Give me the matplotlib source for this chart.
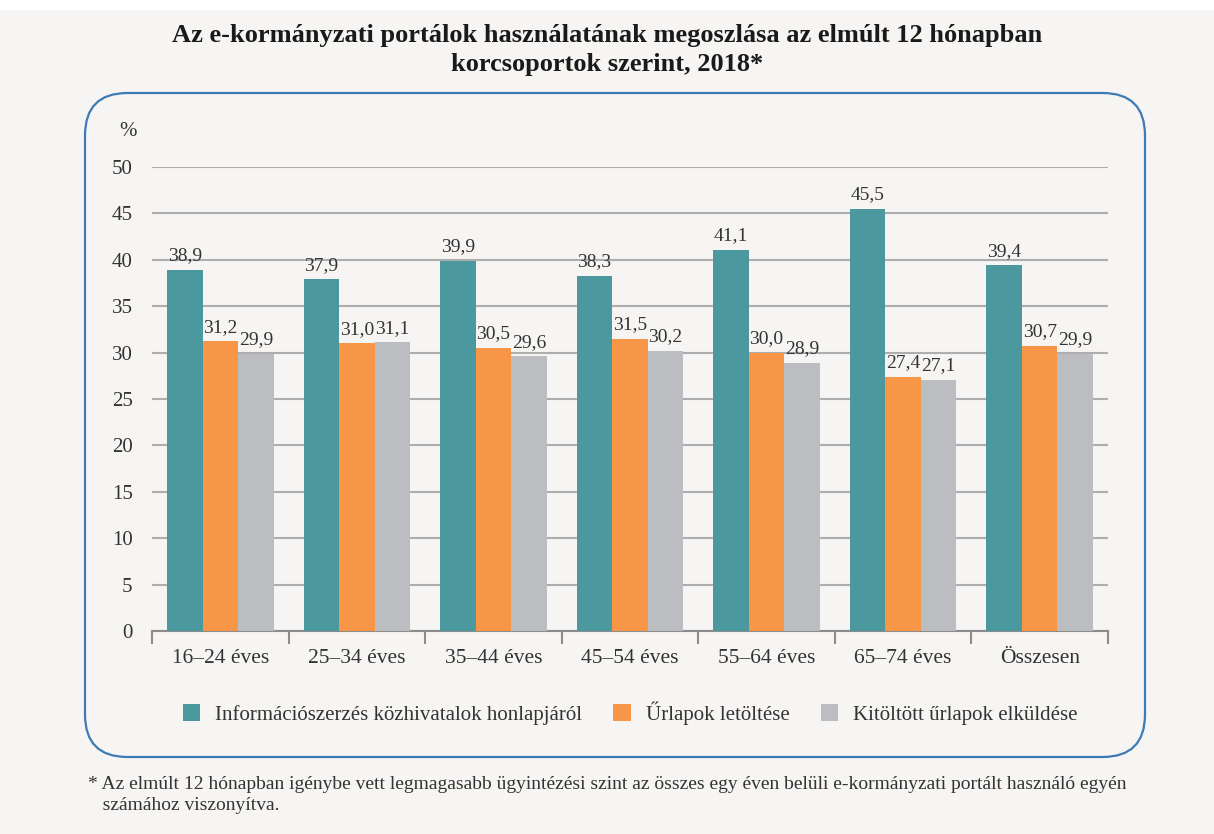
import matplotlib.pyplot as plt
import numpy as np
from matplotlib.patches import FancyBboxPatch, Rectangle

plt.rcParams["font.family"] = ["Liberation Serif", "DejaVu Serif"]

# --- data ---
categories = ["16–24 éves", "25–34 éves", "35–44 éves", "45–54 éves",
              "55–64 éves", "65–74 éves", "Összesen"]
info = [38.9, 37.9, 39.9, 38.3, 41.1, 45.5, 39.4]
letoltes = [31.2, 31.0, 30.5, 31.5, 30.0, 27.4, 30.7]
elkuldes = [29.9, 31.1, 29.6, 30.2, 28.9, 27.1, 29.9]
series_names = ["Információszerzés közhivatalok honlapjáról",
                "Űrlapok letöltése",
                "Kitöltött űrlapok elküldése"]
title = ("Az e-kormányzati portálok használatának megoszlása az elmúlt 12 hónapban\n"
         "korcsoportok szerint, 2018*")
footnote = ("* Az elmúlt 12 hónapban igénybe vett legmagasabb ügyintézési szint az összes egy éven belüli "
            "e-kormányzati portált használó egyén\n   számához viszonyítva.")

colors = ["#4b999f", "#f79646", "#bcbdc0"]
bg = "#f6f5f3"
text_c = "#333333"

W, H = 1214, 834
fig = plt.figure(figsize=(W / 100, H / 100), dpi=100)
fig.patch.set_facecolor(bg)

# white strip at the very top
fig.patches.append(Rectangle((0, 1 - 10 / H), 1, 10 / H, transform=fig.transFigure,
                             facecolor="white", edgecolor="none", zorder=-1))

# rounded frame
x0, y0, x1, y1 = 85, 93, 1145, 757
fig.patches.append(FancyBboxPatch((x0 / W, 1 - y1 / H), (x1 - x0) / W, (y1 - y0) / H,
                                  boxstyle="round,pad=0,rounding_size=0.035",
                                  transform=fig.transFigure, facecolor="none",
                                  edgecolor="#3d7bb3", linewidth=1.6, zorder=-1,
                                  mutation_aspect=W / H))

ax_l, ax_r, ax_t, ax_b = 152, 1108, 167, 631
ax = fig.add_axes([ax_l / W, 1 - ax_b / H, (ax_r - ax_l) / W, (ax_b - ax_t) / H])
ax.set_facecolor("none")

x = np.arange(len(categories))
bw = 0.26
for i, (vals, c) in enumerate(zip([info, letoltes, elkuldes], colors)):
    pos = x + (i - 1) * bw
    ax.bar(pos, vals, width=bw, color=c, label=series_names[i], zorder=3)
    for p, v in zip(pos, vals):
        ax.text(p, v + 0.6, f"{v:.1f}".replace(".", ","), ha="center", va="bottom",
                fontsize=14, color=text_c, zorder=4)

ax.set_xlim(-0.5, len(categories) - 0.5)
ax.set_ylim(0, 50)
ax.set_yticks(range(0, 51, 5))
ax.set_yticklabels([str(v) for v in range(0, 51, 5)], fontsize=15, color=text_c)
ax.grid(axis="y", color="#aeaeae", linewidth=1.5, zorder=0)
ax.set_axisbelow(True)

for s in ["top", "right", "left"]:
    ax.spines[s].set_visible(False)
ax.spines["bottom"].set_color("#8c8c8c")
ax.spines["bottom"].set_linewidth(1.5)
ax.tick_params(axis="y", length=0, pad=14)

ax.set_xticks(x)
ax.set_xticklabels(categories, fontsize=15.5, color=text_c)
ax.tick_params(axis="x", length=0, pad=13)
ax.set_xticks(np.arange(len(categories) + 1) - 0.5, minor=True)
ax.tick_params(axis="x", which="minor", length=9, width=1.5, color="#8c8c8c", direction="out")

fig.text(128 / W, 1 - 132 / H, "%", fontsize=15, color=text_c, ha="center", va="center")

ax.legend(loc="center", bbox_to_anchor=(0.5, (ax_b - 713) / (ax_b - ax_t)),
          ncol=3, frameon=False, fontsize=15, handlelength=0.85, handleheight=0.85,
          columnspacing=1.5, handletextpad=0.7, labelcolor=text_c)

fig.text(0.5, 1 - 50 / H, title, ha="center", va="center", fontsize=19,
         fontweight="bold", color="#1a1a1a", linespacing=1.3)

fig.text(88 / W, 1 - 795 / H, footnote, ha="left", va="center", fontsize=14,
         color=text_c, linespacing=1.35)

fig.savefig("out.png", dpi=100, facecolor=bg)
